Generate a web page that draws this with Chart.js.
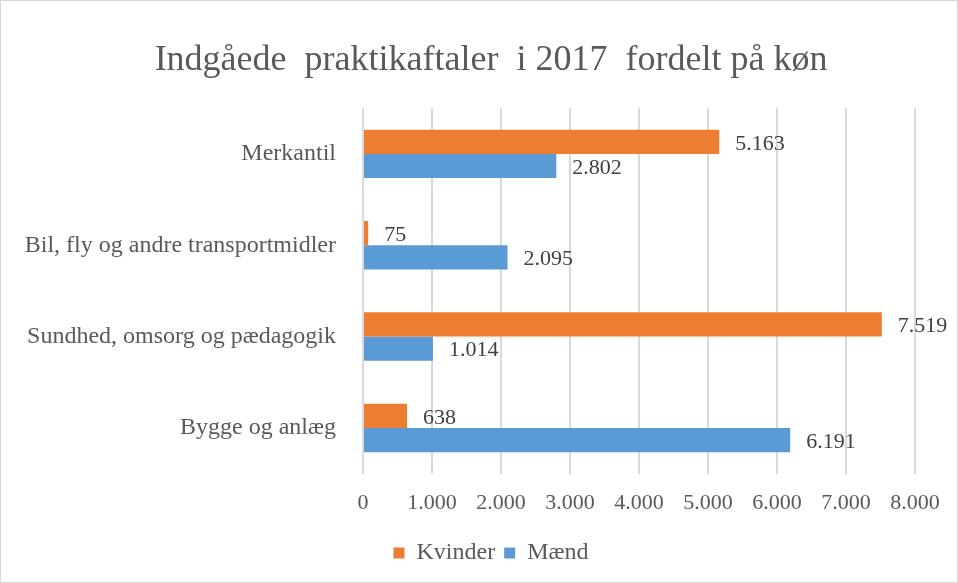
<!DOCTYPE html>
<html lang="da">
<head>
<meta charset="UTF-8" />
<title>Indgåede praktikaftaler i 2017</title>
<script src="https://cdn.jsdelivr.net/npm/chart.js@4.4.0/dist/chart.umd.min.js"></script>
<style>
  html, body { margin: 0; padding: 0; background: #fff; }
  #wrap { width: 956px; height: 581px; border: 1px solid #d9d9d9; position: relative; }
</style>
</head>
<body>
<div id="wrap"><canvas id="myChart" width="956" height="581"></canvas></div>
<script>
const categories = [
  "Merkantil",
  "Bil, fly og andre transportmidler",
  "Sundhed, omsorg og pædagogik",
  "Bygge og anlæg"
];
const kvinder = [5163, 75, 7519, 638];
const maend = [2802, 2095, 1014, 6191];
const xTicks = [0, 1000, 2000, 3000, 4000, 5000, 6000, 7000, 8000];

const serif = "'Liberation Serif', 'Times New Roman', serif";
const textColor = "#595959";

function fmt(v) {
  return String(v).replace(/\B(?=(\d{3})+(?!\d))/g, ".");
}

// simple value labels at the end of each bar
const valueLabels = {
  id: "valueLabels",
  afterDatasetsDraw(chart) {
    const ctx = chart.ctx;
    ctx.save();
    ctx.font = "22px " + serif;
    ctx.fillStyle = "#404040";
    ctx.textAlign = "left";
    ctx.textBaseline = "middle";
    chart.data.datasets.forEach((ds, i) => {
      chart.getDatasetMeta(i).data.forEach((bar, j) => {
        ctx.fillText(fmt(ds.data[j]), bar.x + 16, bar.y + 2);
      });
    });
    ctx.restore();
  }
};

// title and legend sit centred a bit right of the canvas middle
const shiftBoxes = {
  id: "shiftBoxes",
  afterLayout(chart) {
    [chart.titleBlock, chart.legend].forEach((b) => {
      if (b) { b.left += 33; b.right += 33; }
    });
  }
};

const ctx = document.getElementById("myChart").getContext("2d");
new Chart(ctx, {
  type: "bar",
  data: {
    labels: categories,
    datasets: [
      { label: "Kvinder", data: kvinder, backgroundColor: "#ED7D31" },
      { label: "Mænd", data: maend, backgroundColor: "#5B9BD5" }
    ]
  },
  options: {
    indexAxis: "y",
    responsive: false,
    animation: false,
    categoryPercentage: 0.53,
    barPercentage: 1,
    layout: { padding: { top: 38, left: 0, right: 42, bottom: 7 } },
    scales: {
      x: {
        min: 0,
        max: 8000,
        afterBuildTicks(scale) {
          scale.ticks = xTicks.map((v) => ({ value: v }));
        },
        grid: { color: "#d9d9d9", lineWidth: 2, drawTicks: false },
        border: { display: false },
        ticks: {
          color: textColor,
          font: { family: serif, size: 22 },
          padding: 16,
          callback: (v) => fmt(v)
        }
      },
      y: {
        grid: { display: false },
        border: { display: false },
        afterFit(scale) { scale.width = 362; },
        ticks: {
          color: textColor,
          font: { family: serif, size: 24 },
          padding: 19
        }
      }
    },
    plugins: {
      title: {
        display: true,
        text: "Indgåede  praktikaftaler  i 2017  fordelt på køn",
        color: textColor,
        font: { family: serif, size: 36, weight: "normal" },
        padding: { top: 0, bottom: 26 }
      },
      legend: {
        position: "bottom",
        labels: {
          color: textColor,
          font: { family: serif, size: 24 },
          boxWidth: 11,
          boxHeight: 11,
          padding: 9
        }
      },
      tooltip: { enabled: false }
    }
  },
  plugins: [valueLabels, shiftBoxes]
});
</script>
</body>
</html>
